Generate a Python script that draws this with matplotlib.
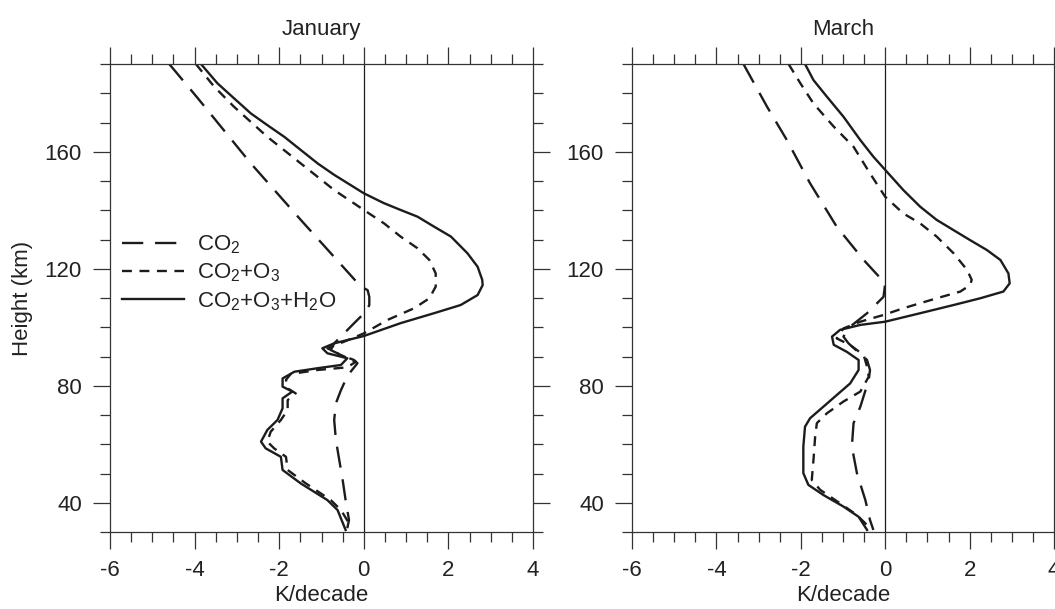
import matplotlib
matplotlib.use('Agg')
import matplotlib.pyplot as plt
from matplotlib.ticker import MultipleLocator

plt.rcParams['font.family'] = ['Liberation Sans', 'DejaVu Sans']
plt.rcParams['mathtext.default'] = 'regular'
plt.rcParams['axes.unicode_minus'] = False

# ---- data (height km, trend K/decade) ----
titles = ['January', 'March']
labels = ['CO$_2$', 'CO$_2$+O$_3$', 'CO$_2$+O$_3$+H$_2$O']

jan_co2_h = [190, 178.4, 156.0, 136.7, 113.9, 112.7, 110.4, 107.6, 105.3, 103.1, 100.2, 97.4,
             94.5, 92.2, 90.5, 88.8, 87.7, 84.8, 82.0, 78.5, 74.0, 68.3, 61.5, 54.6, 47.8,
             40.9, 34.1, 31.3]
jan_co2_x = [-4.60, -3.93, -2.67, -1.49, -0.07, 0.09, 0.13, 0.13, 0.05, -0.11, -0.31, -0.50,
             -0.70, -0.78, -0.54, -0.23, -0.15, -0.31, -0.43, -0.54, -0.66, -0.70, -0.66,
             -0.58, -0.50, -0.43, -0.35, -0.39]

jan_o3_h = [190, 182.3, 175.4, 165.1, 156.0, 146.9, 140.1, 135.5, 131.0, 127.0, 123.0, 118.4,
            113.9, 109.9, 106.5, 102.5, 97.9, 95.1, 92.8, 90.5, 88.2, 86.3, 85.4, 84.0, 82.0,
            79.1, 77.4, 75.1, 71.7, 68.3, 64.3, 60.9, 58.6, 55.7, 51.2, 46.6, 40.9, 37.5, 33.0]
jan_o3_x = [-3.97, -3.54, -3.07, -2.28, -1.49, -0.70, 0.0, 0.48, 0.87, 1.27, 1.55, 1.70,
            1.70, 1.55, 1.19, 0.56, 0.0, -0.46, -0.86, -0.54, -0.19, -0.39, -1.09, -1.73,
            -1.84, -1.80, -1.61, -1.80, -1.80, -1.96, -2.20, -2.28, -2.12, -1.84, -1.80,
            -1.37, -0.78, -0.54, -0.35]

jan_h2o_h = [190, 183.4, 178.3, 173.1, 169.1, 165.1, 160.6, 156.0, 152.1, 148.6, 145.8, 142.4,
             140.1, 137.8, 134.4, 131.0, 125.3, 120.7, 116.2, 114.4, 111.0, 107.6, 104.8,
             101.4, 97.0, 94.5, 92.8, 91.1, 89.4, 87.1, 86.0, 84.8, 82.5, 79.7, 78.0, 75.7,
             72.3, 68.3, 64.9, 60.9, 58.6, 55.7, 51.2, 46.6, 40.9, 37.5, 30.7]
jan_h2o_x = [-3.85, -3.46, -3.07, -2.67, -2.28, -1.88, -1.49, -1.09, -0.70, -0.31, 0.0, 0.48,
             0.87, 1.27, 1.66, 2.06, 2.45, 2.69, 2.80, 2.81, 2.69, 2.29, 1.66, 0.87, 0.0,
             -0.70, -0.98, -0.86, -0.39, -0.54, -1.09, -1.64, -1.92, -1.92, -1.69, -1.92,
             -1.92, -2.04, -2.28, -2.43, -2.32, -1.96, -1.92, -1.49, -0.86, -0.62, -0.43]

mar_co2_h = [190, 175.4, 164.0, 149.2, 134.4, 123.0, 115.0, 110.4, 104.8, 100.2, 96.8, 94.5,
             88.8, 85.4, 82.0, 72.8, 67.2, 59.2, 50.1, 40.9, 34.1, 30.7]
mar_co2_x = [-3.36, -2.80, -2.33, -1.78, -1.15, -0.51, 0.0, -0.04, -0.43, -0.83, -0.99, -0.87,
             -0.43, -0.36, -0.39, -0.59, -0.75, -0.79, -0.67, -0.47, -0.36, -0.28]

mar_o3_h = [190, 183.4, 176.5, 168.6, 161.7, 152.6, 144.6, 138.9, 135.5, 131.0, 125.3, 119.6,
            116.2, 114.4, 112.2, 109.9, 106.5, 104.2, 101.9, 99.6, 96.2, 93.9, 90.5, 86.5,
            83.1, 78.0, 74.6, 70.6, 67.2, 62.6, 54.6, 47.8, 44.4, 39.8, 35.8, 31.8]
mar_o3_x = [-2.29, -2.01, -1.70, -1.22, -0.75, -0.36, 0.0, 0.43, 0.83, 1.22, 1.62, 1.94,
            2.05, 2.01, 1.78, 1.22, 0.43, -0.04, -0.59, -0.99, -1.15, -0.83, -0.51, -0.43,
            -0.39, -0.59, -0.99, -1.38, -1.62, -1.66, -1.70, -1.74, -1.54, -1.07, -0.67, -0.39]

mar_h2o_h = [190, 184.5, 178.8, 172.0, 164.0, 158.3, 153.8, 146.9, 141.2, 136.7, 133.2, 129.8,
             126.4, 123.0, 118.4, 115.0, 112.2, 109.9, 107.6, 104.8, 101.9, 100.8, 99.1, 96.8,
             94.0, 91.6, 88.8, 85.4, 80.8, 76.8, 73.4, 68.9, 66.0, 59.2, 50.1, 46.1, 42.6,
             38.7, 35.2, 30.7]
mar_h2o_x = [-1.90, -1.70, -1.38, -0.99, -0.59, -0.28, 0.0, 0.43, 0.83, 1.22, 1.62, 2.01,
             2.41, 2.73, 2.92, 2.95, 2.80, 2.25, 1.62, 0.83, 0.0, -0.59, -1.07, -1.26, -1.22,
             -0.91, -0.63, -0.63, -0.83, -1.15, -1.42, -1.78, -1.90, -1.94, -1.94, -1.82,
             -1.46, -0.99, -0.63, -0.43]

panels = [
    [(jan_co2_x, jan_co2_h), (jan_o3_x, jan_o3_h), (jan_h2o_x, jan_h2o_h)],
    [(mar_co2_x, mar_co2_h), (mar_o3_x, mar_o3_h), (mar_h2o_x, mar_h2o_h)],
]

ink = '#1c1c1c'
styles = [dict(dashes=(9, 5)), dict(dashes=(4.2, 3.2)), dict(linestyle='-')]

fig = plt.figure(figsize=(10.55, 6.09), dpi=100)
W, H = 1055, 609
axes = [fig.add_axes([110 / W, 77 / H, 423 / W, 468 / H]),
        fig.add_axes([632 / W, 77 / H, 422 / W, 468 / H])]

for i, ax in enumerate(axes):
    for (x, h), st, lab in zip(panels[i], styles, labels):
        ax.plot(x, h, color=ink, lw=1.7, label=lab, **st)
    ax.axvline(0, color=ink, lw=0.9)
    ax.set_xlim(-6, 4)
    ax.set_ylim(30, 190)
    ax.xaxis.set_major_locator(MultipleLocator(2))
    ax.xaxis.set_minor_locator(MultipleLocator(0.5))
    ax.yaxis.set_major_locator(MultipleLocator(40))
    ax.yaxis.set_minor_locator(MultipleLocator(10))
    ax.set_yticks([40, 80, 120, 160])
    ax.tick_params(which='both', direction='out', top=True, right=True,
                   width=0.9, color='#333333', labelsize=16, labelcolor='#222222')
    ax.tick_params(which='major', length=12.2, pad=8)
    ax.tick_params(which='minor', length=7.2)
    for sp in ax.spines.values():
        sp.set_linewidth(0.9)
        sp.set_color('#333333')
    ax.set_title(titles[i], fontsize=16, color='#222222', y=1.062, pad=0)
    ax.set_xlabel('K/decade', fontsize=16, color='#222222')
    ax.xaxis.set_label_coords(0.5, -0.113)

axes[0].set_ylabel('Height (km)', fontsize=16, color='#222222')
axes[0].yaxis.set_label_coords(-0.182, 0.5)

axes[0].legend(loc='center left', bbox_to_anchor=(0.028, 0.553), frameon=False,
               fontsize=16, handlelength=2.8, handletextpad=0.6, labelspacing=0.25,
               borderpad=0, borderaxespad=0, labelcolor='#222222')

fig.savefig('out.png', dpi=100)
